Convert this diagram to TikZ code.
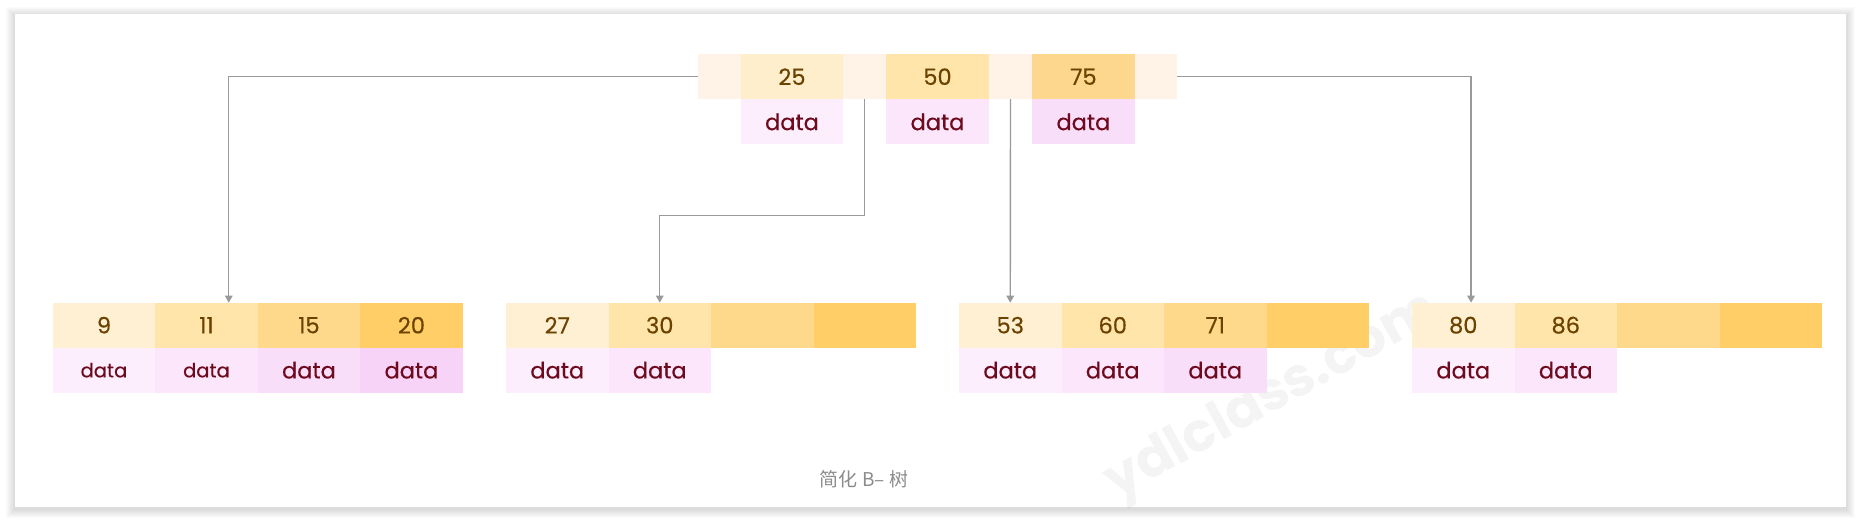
\documentclass[tikz,border=0pt]{standalone}
\usepackage{fontspec}
\setmainfont{Poppins}
\newfontfamily\cellfont{Poppins}[FakeBold=0.4]
\newfontfamily\cjk{Noto Sans CJK SC}
\usetikzlibrary{arrows.meta}
\definecolor{ptrc}{HTML}{FFF2E6}
\definecolor{ka}{HTML}{FFEFD3}
\definecolor{kb}{HTML}{FFE5AA}
\definecolor{kc}{HTML}{FFD98B}
\definecolor{kd}{HTML}{FFCE66}
\definecolor{tka}{HTML}{FFEECB}
\definecolor{tkc}{HTML}{FCD78D}
\definecolor{da}{HTML}{FCEEFC}
\definecolor{db}{HTML}{FBE6FB}
\definecolor{dc}{HTML}{F9DEF9}
\definecolor{dd}{HTML}{F8D3F8}
\definecolor{numc}{HTML}{6B4200}
\definecolor{datac}{HTML}{6E0A1E}
\definecolor{linec}{HTML}{9A9A9A}
\definecolor{capc}{HTML}{8C8C8C}
\tikzset{
  cell/.style={inner sep=0pt, outer sep=0pt, minimum height=45pt},
  keycell/.style={cell, minimum width=102.5pt, text=numc, font=\cellfont\fontsize{22.5}{22.5}\selectfont},
  datacell/.style={cell, minimum width=102.5pt, text=datac, font=\cellfont\fontsize{22.5}{22.5}\selectfont},
  smalldata/.style={datacell, font=\cellfont\fontsize{19.5}{19.5}\selectfont},
  ptrcell/.style={cell, minimum width=43.3pt, fill=ptrc},
  conn/.style={draw=linec, line width=1.4pt, -{Triangle[width=7.5pt,length=7pt]}},
}
\begin{document}
\begin{tikzpicture}[x=1pt,y=-1pt]
\useasboundingbox (0,0) rectangle (1861,523);
% panel with soft shadow
\foreach \i in {1,...,9}
  \fill[black,opacity=0.016] (15-\i,14-\i+2) rectangle (1846+\i,507+\i+2);
\fill[white] (15,14) rectangle (1846,507);
% watermark
\node[rotate=29, text=black, opacity=0.045, font=\fontsize{54}{54}\selectfont\bfseries] (wm) at (1273,398) {ydlclass.com};

% root node
\node[ptrcell] (p0) at (719.4,76.7) {};
\node[keycell, fill=tka, minimum width=102pt] (k1) at (792,76.7) {25};
\node[ptrcell] (p1) at (864.5,76.7) {};
\node[keycell, fill=kb, minimum width=103pt] (k2) at (937.5,76.7) {50};
\node[ptrcell] (p2) at (1010.5,76.7) {};
\node[keycell, fill=tkc, minimum width=102.7pt] (k3) at (1083.4,76.7) {75};
\node[ptrcell, minimum width=42.3pt] (p3) at (1155.85,76.7) {};
\node[datacell, fill=da, minimum width=102pt] (t1) at (792,121.9) {data};
\node[datacell, fill=db, minimum width=103pt] (t2) at (937.5,121.9) {data};
\node[datacell, fill=dc, minimum width=102.7pt] (t3) at (1083.4,121.9) {data};

% leaf 1
\node[keycell, fill=ka] (a1) at (103.95,325.2) {9};
\node[keycell, fill=kb] (a2) at (206.45,325.2) {11};
\node[keycell, fill=kc] (a3) at (308.95,325.2) {15};
\node[keycell, fill=kd] (a4) at (411.45,325.2) {20};
\node[smalldata, fill=da] (ad1) at (103.95,370.2) {data};
\node[smalldata, fill=db] (ad2) at (206.45,370.2) {data};
\node[datacell, fill=dc] (ad3) at (308.95,370.2) {data};
\node[datacell, fill=dd] (ad4) at (411.45,370.2) {data};

% leaf 2
\node[keycell, fill=ka] (b1) at (557.25,325.2) {27};
\node[keycell, fill=kb] (b2) at (659.75,325.2) {30};
\node[keycell, fill=kc] (b3) at (762.25,325.2) {};
\node[keycell, fill=kd] (b4) at (864.75,325.2) {};
\node[datacell, fill=da] (bd1) at (557.25,370.2) {data};
\node[datacell, fill=db] (bd2) at (659.75,370.2) {data};

% leaf 3
\node[keycell, fill=ka] (c1) at (1010.25,325.2) {53};
\node[keycell, fill=kb] (c2) at (1112.75,325.2) {60};
\node[keycell, fill=kc] (c3) at (1215.25,325.2) {71};
\node[keycell, fill=kd] (c4) at (1317.75,325.2) {};
\node[datacell, fill=da] (cd1) at (1010.25,370.2) {data};
\node[datacell, fill=db] (cd2) at (1112.75,370.2) {data};
\node[datacell, fill=dc] (cd3) at (1215.25,370.2) {data};

% leaf 4
\node[keycell, fill=ka] (e1) at (1463.25,325.2) {80};
\node[keycell, fill=kb] (e2) at (1565.75,325.2) {86};
\node[keycell, fill=kc] (e3) at (1668.25,325.2) {};
\node[keycell, fill=kd] (e4) at (1770.75,325.2) {};
\node[datacell, fill=da] (ed1) at (1463.25,370.2) {data};
\node[datacell, fill=db] (ed2) at (1565.75,370.2) {data};

% connectors
\coordinate (bend) at (864.5,215.7);
\draw[conn] (p0.west) -| ([xshift=22.3pt]a2.north);
\draw[conn] (p1.south) -- (bend) -| (b2.north);
\draw[conn] (p2.south) -- (c1.north);
\draw[conn] (p3.east) -| ([xshift=7.8pt]e1.north);

% caption
\node[text=capc, font=\cjk\fontsize{19}{19}\selectfont] (cap) at (864,479) {简化 B– 树};
\end{tikzpicture}
\end{document}
